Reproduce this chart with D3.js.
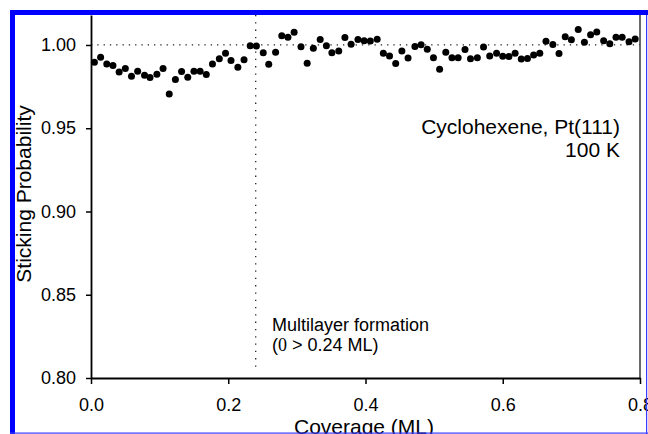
<!DOCTYPE html>
<html>
<head>
<meta charset="utf-8">
<script src="https://cdn.jsdelivr.net/npm/d3@7"></script>
<style>
  html, body { margin: 0; padding: 0; background: #fff; }
  svg { display: block; font-family: "Liberation Sans", Arial, sans-serif; }
</style>
</head>
<body>
<div id="chart"></div>
<script>
// coverage (ML) of each point
var coverage = [
  0.005, 0.014, 0.023, 0.032, 0.041, 0.050, 0.059, 0.068, 0.078, 0.086,
  0.096, 0.105, 0.114, 0.123, 0.132, 0.141, 0.150, 0.159, 0.168, 0.177,
  0.187, 0.196, 0.204, 0.214, 0.223, 0.232, 0.241, 0.251, 0.259, 0.269,
  0.278, 0.287, 0.296, 0.306, 0.315, 0.324, 0.334, 0.343, 0.351, 0.361,
  0.370, 0.379, 0.389, 0.398, 0.407, 0.417, 0.426, 0.435, 0.444, 0.453,
  0.462, 0.472, 0.481, 0.490, 0.499, 0.508, 0.517, 0.526, 0.535, 0.545,
  0.553, 0.563, 0.572, 0.581, 0.591, 0.600, 0.609, 0.618, 0.627, 0.636,
  0.645, 0.654, 0.663, 0.673, 0.682, 0.691, 0.700, 0.710, 0.719, 0.728,
  0.737, 0.747, 0.756, 0.765, 0.774, 0.784, 0.793
];
// sticking probability
var sticking = [
  0.9896, 0.9926, 0.9886, 0.9876, 0.9838, 0.9858, 0.9812, 0.9842, 0.9818, 0.9804,
  0.9824, 0.9858, 0.9706, 0.9792, 0.9840, 0.9806, 0.9842, 0.9842, 0.9822, 0.9886,
  0.9918, 0.9950, 0.9906, 0.9866, 0.9912, 0.9996, 0.9994, 0.9954, 0.9884, 0.9956,
  1.0056, 1.0046, 1.0076, 0.9990, 0.9890, 0.9981, 1.0033, 0.9996, 0.9954, 0.9964,
  1.0045, 1.0004, 1.0033, 1.0026, 1.0024, 1.0035, 0.9950, 0.9934, 0.9889, 0.9964,
  0.9922, 0.9991, 1.0002, 0.9974, 0.9924, 0.9854, 0.9956, 0.9923, 0.9923, 0.9973,
  0.9918, 0.9923, 0.9988, 0.9934, 0.9950, 0.9932, 0.9931, 0.9950, 0.9916, 0.9919,
  0.9940, 0.9950, 1.0023, 1.0003, 0.9949, 1.0050, 1.0031, 1.0093, 1.0016, 1.0061,
  1.0078, 1.0026, 1.0008, 1.0047, 1.0047, 1.0020, 1.0036
];
var xTicks = [0, 0.2, 0.4, 0.6, 0.8];
var yTicks = [0.80, 0.85, 0.90, 0.95, 1.00];
var multilayerAt = 0.24;
var referenceLevel = 1.00;

var width = 648, height = 434;
var margin = {top: 15, right: 8, bottom: 56, left: 91};

var x = d3.scaleLinear()
          .domain([0, 0.8])
          .range([margin.left, width - margin.right]);
var y = d3.scaleLinear()
          .domain([0.80, 1.018])
          .range([height - margin.bottom, margin.top]);

var svg = d3.select('#chart').append('svg')
        .attr('width', width)
        .attr('height', height);

svg.append('rect')
    .attr('width', width).attr('height', height)
    .attr('fill', '#fff');

// dotted guide lines
svg.append('line')
    .attr('x1', x(0)).attr('x2', x(0.8))
    .attr('y1', y(referenceLevel)).attr('y2', y(referenceLevel))
    .attr('stroke', '#222').attr('stroke-width', 1.3)
    .attr('stroke-dasharray', '1.3,5');
svg.append('line')
    .attr('x1', x(multilayerAt)).attr('x2', x(multilayerAt))
    .attr('y1', y(1.018)).attr('y2', y(0.805))
    .attr('stroke', '#222').attr('stroke-width', 1.3)
    .attr('stroke-dasharray', '1.3,6');

// right frame line
svg.append('line')
    .attr('x1', x(0.8)).attr('x2', x(0.8))
    .attr('y1', y(1.018)).attr('y2', y(0.80))
    .attr('stroke', '#444').attr('stroke-width', 1.6);

var xAxis = svg.append('g')
    .attr('transform', 'translate(0,' + y(0.80) + ')')
    .call(d3.axisBottom(x).tickValues(xTicks).tickFormat(d3.format('.1f'))
            .tickSize(6).tickPadding(14).tickSizeOuter(0));
var yAxis = svg.append('g')
    .attr('transform', 'translate(' + x(0) + ',0)')
    .call(d3.axisLeft(y).tickValues(yTicks).tickFormat(d3.format('.2f'))
            .tickSize(5).tickPadding(10).tickSizeOuter(0));

[xAxis, yAxis].forEach(function(g) {
    g.select('.domain').attr('stroke', '#000').attr('stroke-width', 1.8);
    g.selectAll('.tick line').attr('stroke', '#000').attr('stroke-width', 1.5);
    g.selectAll('.tick text')
        .attr('fill', '#000')
        .style('font-family', '"Liberation Sans", Arial, sans-serif')
        .style('font-size', '18px');
});

// data points
svg.selectAll('.pt')
        .data(coverage)
    .enter().append('circle')
        .attr('class', 'pt')
        .attr('cx', function(d) { return x(d); })
        .attr('cy', function(d, i) { return y(sticking[i]); })
        .attr('r', 3.5)
        .attr('fill', '#000');

// annotations
svg.append('text')
    .attr('x', 620).attr('y', 134)
    .attr('text-anchor', 'end')
    .style('font-size', '21px')
    .text('Cyclohexene, Pt(111)');
svg.append('text')
    .attr('x', 620).attr('y', 157)
    .attr('text-anchor', 'end')
    .style('font-size', '21px')
    .text('100 K');

svg.append('text')
    .attr('x', 272).attr('y', 331)
    .style('font-size', '18px')
    .text('Multilayer formation');
var t2 = svg.append('text')
    .attr('x', 272).attr('y', 351)
    .style('font-size', '18px');
t2.append('tspan').text('(');
t2.append('tspan').style('font-family', '"Liberation Serif", "Times New Roman", serif').text('0');
t2.append('tspan').text(' > 0.24 ML)');

// axis titles
svg.append('text')
    .attr('transform', 'translate(31,194) rotate(-90)')
    .attr('text-anchor', 'middle')
    .style('font-size', '21px')
    .text('Sticking Probability');
svg.append('text')
    .attr('x', 364).attr('y', 434)
    .attr('text-anchor', 'middle')
    .style('font-size', '21px')
    .text('Coverage (ML)');

// blue frame of the figure
svg.append('rect').attr('x', 10).attr('y', 10).attr('width', width - 10).attr('height', 5).attr('fill', '#0000ff');
svg.append('rect').attr('x', 10).attr('y', 10).attr('width', 5).attr('height', height - 10).attr('fill', '#0000ff');
svg.append('rect').attr('x', 646).attr('y', 15).attr('width', 1.2).attr('height', height - 15).attr('fill', '#3a3aff');
svg.append('rect').attr('x', 10).attr('y', 432.5).attr('width', width - 10).attr('height', 1.2).attr('fill', '#3a3aff');
</script>
</body>
</html>
